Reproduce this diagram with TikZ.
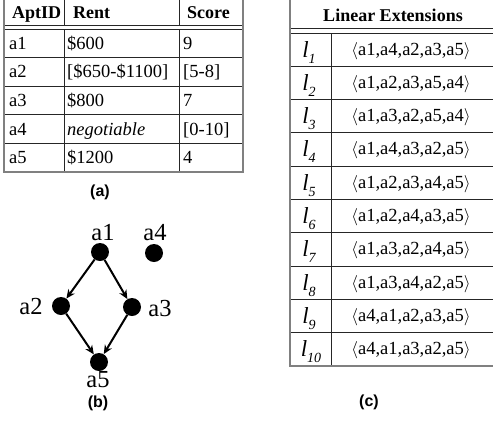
\documentclass[tikz,border=0pt]{standalone}
\usepackage{fontspec}
\setmainfont{Liberation Serif}
\newfontfamily\capfont{Liberation Sans}
\usetikzlibrary{arrows.meta}

\newcommand{\lname}[1]{{\fontsize{23}{23}\selectfont\itshape l}\raisebox{-6pt}{\fontsize{14}{14}\selectfont\itshape #1}}
\newcommand{\extseq}[1]{$\langle$#1$\rangle$}

\begin{document}
\begin{tikzpicture}[x=1pt, y=-1pt,
  cell/.style={anchor=base west, inner sep=0pt, font=\fontsize{18.5}{18.5}\selectfont},
  head/.style={cell, font=\fontsize{18}{18}\selectfont\bfseries},
  ext/.style={anchor=base, inner sep=0pt, font=\fontsize{18.5}{18.5}\selectfont},
  apt/.style={circle, fill=black, inner sep=0pt, minimum size=18pt},
  aptname/.style={inner sep=0pt, font=\fontsize{24.5}{24.5}\selectfont},
  caption/.style={inner sep=0pt, font=\capfont\bfseries\fontsize{16}{16}\selectfont},
  order/.style={-{Stealth[length=9pt,width=8pt]}, line width=2pt},
  gridline/.style={black!85, line width=1pt},
  outline/.style={gray, line width=1.6pt}]
\useasboundingbox (0,0) rectangle (493,421);

% Table (a): apartments
\draw[gridline] (4,25) -- (243,25);
\draw[gridline] (4,29) -- (243,29);
\draw[gridline] (4,57.6) -- (243,57.6);
\draw[gridline] (4,86.2) -- (243,86.2);
\draw[gridline] (4,114.8) -- (243,114.8);
\draw[gridline] (4,143.4) -- (243,143.4);
\draw[gridline] (64,-2) -- (64,25);
\draw[gridline] (64,29) -- (64,172);
\draw[gridline] (179,-2) -- (179,25);
\draw[gridline] (179,29) -- (179,172);
\draw[outline] (4,-2) rectangle (243,172);

\node[head] (hid) at (12,18) {AptID};
\node[head] (hrent) at (73,18) {Rent};
\node[head] (hscore) at (187,18) {Score};

\node[cell] (id1) at (9,49.3) {a1};
\node[cell] (rent1) at (67,49.3) {\$600};
\node[cell] (score1) at (183,49.3) {9};
\node[cell] (id2) at (9,77.9) {a2};
\node[cell] (rent2) at (67,77.9) {[\$650-\$1100]};
\node[cell] (score2) at (183,77.9) {[5-8]};
\node[cell] (id3) at (9,106.5) {a3};
\node[cell] (rent3) at (67,106.5) {\$800};
\node[cell] (score3) at (183,106.5) {7};
\node[cell] (id4) at (9,135.1) {a4};
\node[cell] (rent4) at (67,135.1) {\itshape negotiable};
\node[cell] (score4) at (183,135.1) {[0-10]};
\node[cell] (id5) at (9,163.7) {a5};
\node[cell] (rent5) at (67,163.7) {\$1200};
\node[cell] (score5) at (183,163.7) {4};

\node[caption] (capa) at (100,192) {(a)};

% Graph (b): partial order
\node[apt] (a1) at (100,252) {};
\node[apt] (a4) at (154,253) {};
\node[apt] (a2) at (61,306) {};
\node[apt] (a3) at (132,307) {};
\node[apt] (a5) at (99,362) {};

\node[aptname] (n1) at (103,233) {a1};
\node[aptname] (n4) at (155,233) {a4};
\node[aptname] (n2) at (31,307) {a2};
\node[aptname] (n3) at (160,309) {a3};
\node[aptname] (n5) at (98,380) {a5};

\draw[order] (a1) -- (a2);
\draw[order] (a1) -- (a3);
\draw[order] (a2) -- (a5);
\draw[order] (a3) -- (a5);

\node[caption] (capb) at (98,403) {(b)};

% Table (c): linear extensions
\draw[gridline] (290,28) -- (496,28);
\draw[gridline] (290,33) -- (496,33);
\draw[gridline] (290,66.3) -- (496,66.3);
\draw[gridline] (290,99.6) -- (496,99.6);
\draw[gridline] (290,132.9) -- (496,132.9);
\draw[gridline] (290,166.2) -- (496,166.2);
\draw[gridline] (290,199.5) -- (496,199.5);
\draw[gridline] (290,232.8) -- (496,232.8);
\draw[gridline] (290,266.1) -- (496,266.1);
\draw[gridline] (290,299.4) -- (496,299.4);
\draw[gridline] (290,332.7) -- (496,332.7);
\draw[gridline] (331,33) -- (331,366);
\draw[outline] (290,-2) rectangle (496,366);

\node[ext, font=\fontsize{18}{18}\selectfont\bfseries] (hext) at (393,21) {Linear Extensions};

\node[ext] (l1) at (309,57) {\lname{1}};
\node[ext] (e1) at (411,55) {\extseq{a1,a4,a2,a3,a5}};
\node[ext] (l2) at (309,90.3) {\lname{2}};
\node[ext] (e2) at (411,88.3) {\extseq{a1,a2,a3,a5,a4}};
\node[ext] (l3) at (309,123.6) {\lname{3}};
\node[ext] (e3) at (411,121.6) {\extseq{a1,a3,a2,a5,a4}};
\node[ext] (l4) at (309,156.9) {\lname{4}};
\node[ext] (e4) at (411,154.9) {\extseq{a1,a4,a3,a2,a5}};
\node[ext] (l5) at (309,190.2) {\lname{5}};
\node[ext] (e5) at (411,188.2) {\extseq{a1,a2,a3,a4,a5}};
\node[ext] (l6) at (309,223.5) {\lname{6}};
\node[ext] (e6) at (411,221.5) {\extseq{a1,a2,a4,a3,a5}};
\node[ext] (l7) at (309,256.8) {\lname{7}};
\node[ext] (e7) at (411,254.8) {\extseq{a1,a3,a2,a4,a5}};
\node[ext] (l8) at (309,290.1) {\lname{8}};
\node[ext] (e8) at (411,288.1) {\extseq{a1,a3,a4,a2,a5}};
\node[ext] (l9) at (309,323.4) {\lname{9}};
\node[ext] (e9) at (411,321.4) {\extseq{a4,a1,a2,a3,a5}};
\node[ext] (l10) at (311,356.7) {\lname{10}};
\node[ext] (e10) at (411,354.7) {\extseq{a4,a1,a3,a2,a5}};

\node[caption] (capc) at (369,402) {(c)};
\end{tikzpicture}
\end{document}
